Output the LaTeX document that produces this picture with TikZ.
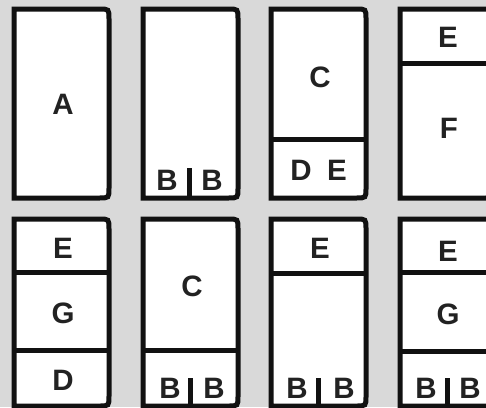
\documentclass[tikz,border=0pt]{standalone}
\usepackage{fontspec}
\setmainfont{Liberation Sans}
\usepackage{tikz}
\usetikzlibrary{positioning}
\definecolor{panelGray}{HTML}{D9D9D9}
\definecolor{inkBlack}{HTML}{111111}
\definecolor{letterGray}{HTML}{222222}

\begin{document}
\begin{tikzpicture}[x=1pt, y=-1pt,
    panel/.style={line width=5pt, draw=inkBlack, fill=white},
    slotline/.style={line width=5pt, draw=inkBlack},
    lbl/.style={font=\fontsize{29.5}{30}\selectfont\bfseries, text=letterGray, inner sep=0pt}]
    \useasboundingbox (0,0) rectangle (486,407);
    \fill[panelGray] (0,0) rectangle (486,407);
    \clip (0,0) rectangle (486,407);
    % outlines: square on the left, rounded on the right
    \foreach \x in {14,143,271,400} {
        \foreach \yt/\yb in {9/198,219/406} {
            \draw[panel] (\x,\yt) -- (\x+85,\yt) .. controls (\x+95,\yt) .. (\x+95,\yt+10)
                -- (\x+95,\yb-10) .. controls (\x+95,\yb) .. (\x+85,\yb) -- (\x,\yb) -- cycle;
        }
    }
    % dividers
    \draw[slotline] (271,139.5) -- (366,139.5);
    \draw[slotline] (400,63) -- (495,63);
    \draw[slotline] (14,272) -- (109,272);
    \draw[slotline] (14,350) -- (109,350);
    \draw[slotline] (143,350) -- (238,350);
    \draw[slotline] (271,273) -- (366,273);
    \draw[slotline] (400,272) -- (495,272);
    \draw[slotline] (400,351) -- (495,351);
    % split ticks
    \draw[slotline] (189,168) -- (189,198);
    \draw[slotline] (190,378) -- (190,406);
    \draw[slotline] (318,378) -- (318,406);
    \draw[slotline] (447,378) -- (447,406);
    % top row
    \node[lbl] (lblA) at (63,104) {A};
    \node[lbl] (lblBl) at (167,180) {B};
    \node[lbl] (lblBr) at (212,180) {B};
    \node[lbl] (lblC) at (320,77) {C};
    \node[lbl] (lblD) at (301,170) {D};
    \node[lbl] (lblE) at (337,170) {E};
    \node[lbl] (lblEtop) at (448,37) {E};
    \node[lbl] (lblF) at (449,128) {F};
    % bottom row
    \node[lbl] (lblEone) at (63,248) {E};
    \node[lbl] (lblGone) at (63,313) {G};
    \node[lbl] (lblDone) at (63,380) {D};
    \node[lbl] (lblCtwo) at (192,286) {C};
    \node[lbl] (lblBtwol) at (170,388) {B};
    \node[lbl] (lblBtwor) at (214,388) {B};
    \node[lbl] (lblEthree) at (320,248) {E};
    \node[lbl] (lblBthreel) at (297,388) {B};
    \node[lbl] (lblBthreer) at (344,388) {B};
    \node[lbl] (lblEfour) at (448,251) {E};
    \node[lbl] (lblGfour) at (448,314) {G};
    \node[lbl] (lblBfourl) at (426,388) {B};
    \node[lbl] (lblBfourr) at (470,388) {B};
\end{tikzpicture}
\end{document}
